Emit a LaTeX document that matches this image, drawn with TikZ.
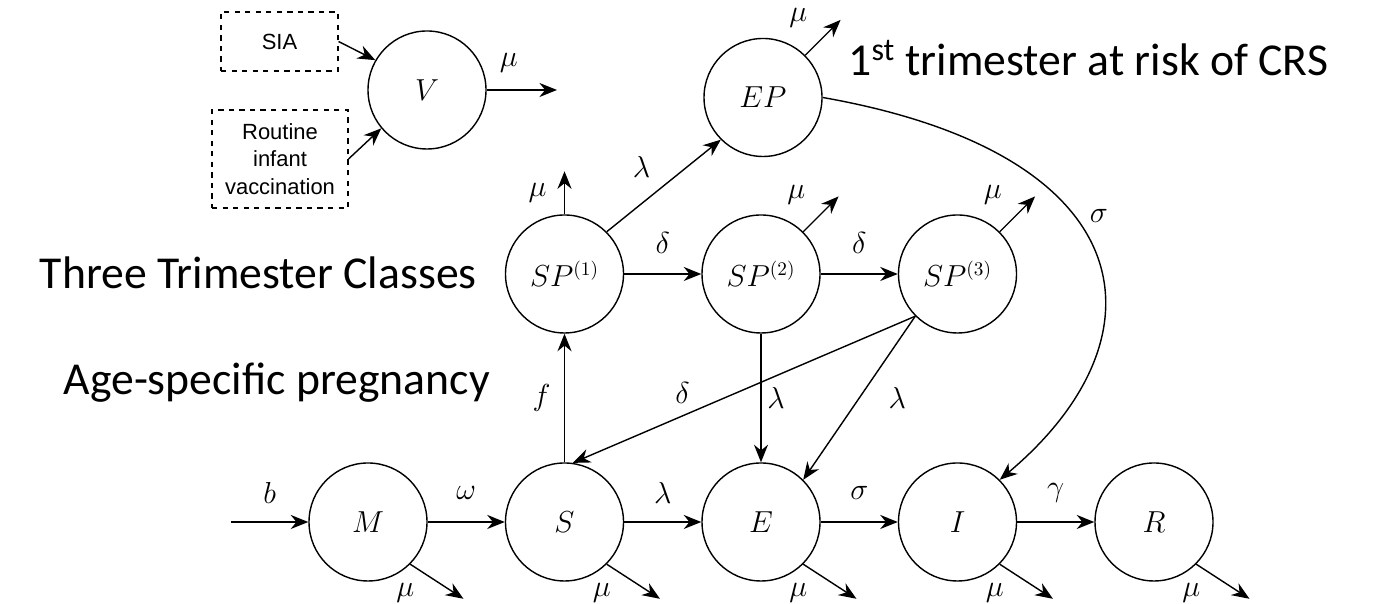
\documentclass[tikz,border=0pt]{standalone}
\usepackage{fontspec}
\setmainfont{Carlito}
\newfontfamily\arialfont{Liberation Sans}
\usetikzlibrary{arrows.meta,positioning}
\tikzset{>={Stealth[length=10pt,width=8pt]}}

\begin{document}
\begin{tikzpicture}[x=2cm,y=2cm,
    comp/.style={draw,circle,line width=0.8pt,minimum size=2.36cm,inner sep=0pt,font=\fontsize{16}{19}\selectfont},
    src/.style={draw,dashed,line width=0.6pt,align=center,inner sep=0pt,font=\arialfont\fontsize{12.5}{15.5}\selectfont},
    flow/.style={->,line width=0.8pt},
    rate/.style={font=\fontsize{16}{19}\selectfont,inner sep=0pt},
    note/.style={font=\fontsize{26}{31}\selectfont,inner sep=0pt}]
  \useasboundingbox (0,0) rectangle (13.74,6.04);
  % \draw[help lines] (0,0) grid (13.74,6.04);

  % compartments
  \node[comp] (M) at (3.68,0.82) {$M$};
  \node[comp] (S) at (5.645,0.82) {$S$};
  \node[comp] (E) at (7.61,0.82) {$E$};
  \node[comp] (I) at (9.575,0.82) {$I$};
  \node[comp] (R) at (11.54,0.82) {$R$};
  \node[comp] (SP1) at (5.645,3.30) {$SP^{(1)}$};
  \node[comp] (SP2) at (7.61,3.30) {$SP^{(2)}$};
  \node[comp] (SP3) at (9.575,3.30) {$SP^{(3)}$};
  \node[comp] (EP) at (7.63,5.065) {$EP$};
  \node[comp] (V) at (4.27,5.14) {$V$};

  % vaccination sources
  \node[src,minimum width=2.34cm,minimum height=1.18cm] (SIA) at (2.795,5.625) {SIA};
  \node[src,minimum width=2.72cm,minimum height=1.96cm] (RIV) at (2.80,4.45) {Routine\\infant\\vaccination};
  \draw[flow] (SIA.east) -- (V.150);
  \draw[flow] (RIV.east) -- (V.220);

  % side notes
  \node[note,anchor=base west] (risk) at (8.48,5.28) {1\textsuperscript{st} trimester at risk of CRS};
  \node[note,anchor=base east] (classes) at (4.77,3.15) {Three Trimester Classes};
  \node[note,anchor=base east] (pregnancy) at (4.90,2.09) {Age-specific pregnancy};

  % births and main chain
  \coordinate (b-in) at (2.31,0.82);
  \draw[flow] (b-in) -- (M) node[rate,midway,yshift=0.58cm] (b-lab) {$b$};
  \draw[flow] (M) -- (S) node[rate,midway,yshift=0.58cm] (omega-lab) {$\omega$};
  \draw[flow] (S) -- (E) node[rate,midway,yshift=0.58cm] (lam-lab) {$\lambda$};
  \draw[flow] (E) -- (I) node[rate,midway,yshift=0.58cm] (sig-lab) {$\sigma$};
  \draw[flow] (I) -- (R) node[rate,midway,yshift=0.58cm] (gam-lab) {$\gamma$};

  % pregnancy classes
  \draw[flow] (S) -- (SP1) node[rate,midway,xshift=-0.46cm] (f-lab) {$f$};
  \draw[flow] (SP1) -- (SP2) node[rate,midway,yshift=0.62cm] (del1-lab) {$\delta$};
  \draw[flow] (SP2) -- (SP3) node[rate,midway,yshift=0.62cm] (del2-lab) {$\delta$};
  \draw[flow] (SP2) -- (E) node[rate,midway,xshift=0.3cm] (lam2-lab) {$\lambda$};
  \draw[flow] (SP3.south west) -- (S.82) node[rate,pos=0.68,yshift=0.46cm] (del3-lab) {$\delta$};
  \draw[flow] (SP3.south west) -- (E.north east) node[rate,midway,xshift=0.76cm] (lam3-lab) {$\lambda$};
  \draw[flow] (SP1.north east) -- (EP.south west) node[rate,midway,shift={(140:0.58cm)}] (lam1-lab) {$\lambda$};
  \draw[flow] (EP.east) .. controls +(-10:3.3) and +(40:2.2) .. (I.north east)
    node[rate,pos=0.4,xshift=0.5cm] (sig2-lab) {$\sigma$};

  % deaths
  \foreach \n in {M,S,E,I,R}{
    \path (\n.south east) ++(-33:0.635) coordinate (\n-out);
    \draw[flow] (\n.south east) -- (\n-out);
    \path (\n.south east) ++(-0.05,-0.29) node[rate] (\n-mu) {$\mu$};
  }
  \foreach \n in {SP2,SP3,EP}{
    \path (\n.north east) ++(45:0.5) coordinate (\n-out);
    \draw[flow] (\n.north east) -- (\n-out);
    \path (\n.north east) ++(-0.07,0.37) node[rate] (\n-mu) {$\mu$};
  }
  \path (SP1.north) ++(0,0.43) coordinate (SP1-out);
  \draw[flow] (SP1) -- (SP1-out) node[rate,midway,xshift=-0.54cm] (SP1-mu) {$\mu$};
  \coordinate (V-out) at (5.57,5.14);
  \draw[flow] (V) -- (V-out) node[rate,midway,xshift=-0.26cm,yshift=0.54cm] (V-mu) {$\mu$};
\end{tikzpicture}
\end{document}
